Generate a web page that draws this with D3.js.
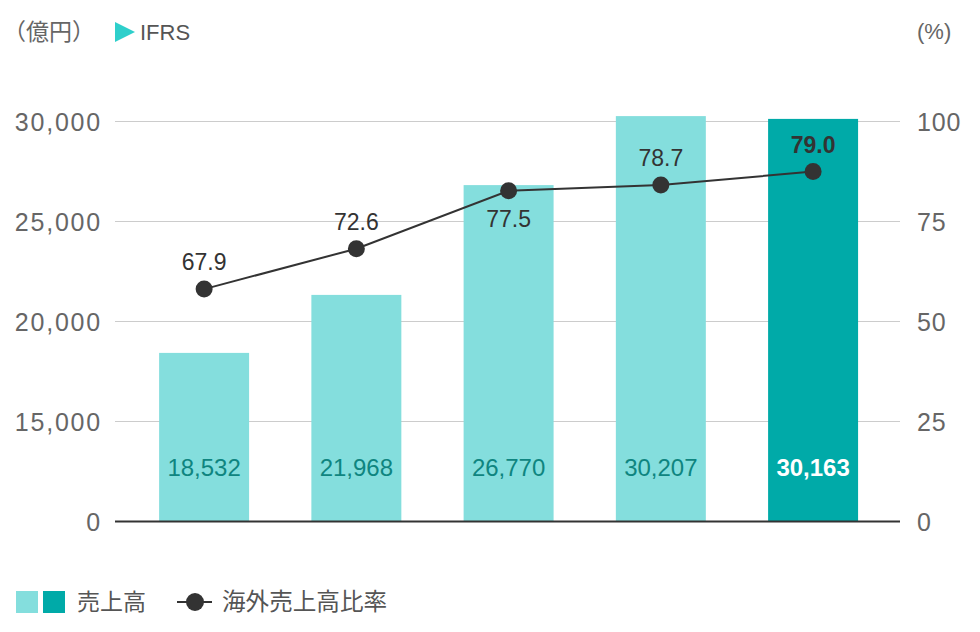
<!DOCTYPE html>
<html>
<head>
<meta charset="utf-8">
<script src="https://cdn.jsdelivr.net/npm/d3@7"></script>
<style>
  html, body { margin: 0; padding: 0; background: #fff; }
  svg { display: block; }
</style>
</head>
<body>
<svg id="chart" width="980" height="632"></svg>
<script>
// ---- data ----
const categories = ["Y1", "Y2", "Y3", "Y4", "Y5"];
const salesLabels = ["18,532", "21,968", "26,770", "30,207", "30,163"];
// bar heights as drawn in the reference (億円)
const salesValues = [18430, 21330, 26820, 30270, 30130];
const ratioLabels = ["67.9", "72.6", "77.5", "78.7", "79.0"];
// point heights as drawn in the reference (%)
const ratioValues = [58.1, 68.2, 82.7, 84.1, 87.5];
const leftTicks = [0, 15000, 20000, 25000, 30000];
const rightTicks = [0, 25, 50, 75, 100];
const highlightIndex = 4;

// ---- styles ----
const LIGHT = "#84dedd";
const DARK = "#00aaa8";
const JP = "'Noto Sans CJK JP', 'Noto Sans', sans-serif";
const LAT = "'Liberation Sans', Arial, Helvetica, sans-serif";

const svg = d3.select("#chart");

const x = d3.scaleBand()
  .domain(categories)
  .range([83, 934.2])
  .paddingInner(0.409)
  .paddingOuter(0.5);

const yL = d3.scaleLinear().domain([0, 15000, 30000]).range([521.5, 421.5, 121.5]);
const yR = d3.scaleLinear().domain([0, 100]).range([521.5, 121.5]);

const gridX0 = 115, gridX1 = 900;

// gridlines
svg.append("g").selectAll("line")
  .data(leftTicks.filter(d => d !== 0))
  .join("line")
  .attr("x1", gridX0).attr("x2", gridX1)
  .attr("y1", d => yL(d)).attr("y2", d => yL(d))
  .attr("stroke", "#cccccc").attr("stroke-width", 1);

// left axis labels
const leftAxis = d3.axisLeft(yL).tickValues(leftTicks).tickSize(0).tickPadding(0)
  .tickFormat(d3.format(","));
const gl = svg.append("g").attr("transform", `translate(${100},0)`).call(leftAxis);
gl.select(".domain").remove();
gl.selectAll("text")
  .attr("font-family", LAT).attr("font-size", 25).attr("fill", "#666")
  .attr("letter-spacing", 1.8).attr("dy", "0.36em").attr("x", 2);

// right axis labels
const rightAxis = d3.axisRight(yR).tickValues(rightTicks).tickSize(0).tickPadding(0);
const gr = svg.append("g").attr("transform", `translate(${917},0)`).call(rightAxis);
gr.select(".domain").remove();
gr.selectAll("text")
  .attr("font-family", LAT).attr("font-size", 25).attr("fill", "#666")
  .attr("letter-spacing", 0.8).attr("dy", "0.36em").attr("x", 0);

// bars
svg.append("g").selectAll("rect")
  .data(salesValues)
  .join("rect")
  .attr("x", (d, i) => x(categories[i]))
  .attr("width", x.bandwidth())
  .attr("y", d => yL(d))
  .attr("height", d => yL(0) - yL(d))
  .attr("fill", (d, i) => i === highlightIndex ? DARK : LIGHT);

// baseline
svg.append("line")
  .attr("x1", gridX0).attr("x2", gridX1)
  .attr("y1", yL(0)).attr("y2", yL(0))
  .attr("stroke", "#333").attr("stroke-width", 2);

// bar value labels
svg.append("g").selectAll("text")
  .data(salesLabels)
  .join("text")
  .attr("x", (d, i) => x(categories[i]) + x.bandwidth() / 2)
  .attr("y", yL(0) - 46)
  .attr("text-anchor", "middle")
  .attr("font-family", LAT)
  .attr("font-size", 24)
  .attr("font-weight", (d, i) => i === highlightIndex ? "bold" : "normal")
  .attr("fill", (d, i) => i === highlightIndex ? "#ffffff" : "#0f8580")
  .text(d => d);

// ratio line
const cx = i => x(categories[i]) + x.bandwidth() / 2;
const line = d3.line().x((d, i) => cx(i)).y(d => yR(d));
svg.append("path")
  .datum(ratioValues)
  .attr("d", line)
  .attr("fill", "none")
  .attr("stroke", "#333")
  .attr("stroke-width", 2);

svg.append("g").selectAll("circle")
  .data(ratioValues)
  .join("circle")
  .attr("cx", (d, i) => cx(i))
  .attr("cy", d => yR(d))
  .attr("r", 8.5)
  .attr("fill", "#333");

// ratio labels (third one sits below its point)
svg.append("g").selectAll("text")
  .data(ratioLabels)
  .join("text")
  .attr("x", (d, i) => cx(i))
  .attr("y", (d, i) => yR(ratioValues[i]) + (i === 2 ? 36 : -19))
  .attr("text-anchor", "middle")
  .attr("font-family", LAT)
  .attr("font-size", 23)
  .attr("font-weight", (d, i) => i === highlightIndex ? "bold" : "normal")
  .attr("fill", "#333")
  .text(d => d);

// header
svg.append("text")
  .attr("x", 3).attr("y", 40)
  .attr("font-family", JP).attr("font-size", 23).attr("fill", "#666")
  .text("（億円）");
svg.append("path")
  .attr("d", "M115,22 L135,32 L115,42 Z")
  .attr("fill", "#2ecfcb");
svg.append("text")
  .attr("x", 140).attr("y", 40)
  .attr("font-family", LAT).attr("font-size", 22).attr("fill", "#555")
  .text("IFRS");
svg.append("text")
  .attr("x", 917).attr("y", 39)
  .attr("font-family", LAT).attr("font-size", 22).attr("fill", "#666")
  .text("(%)");

// legend
const lg = svg.append("g");
lg.append("rect").attr("x", 16).attr("y", 591).attr("width", 22).attr("height", 22).attr("fill", LIGHT);
lg.append("rect").attr("x", 43).attr("y", 591).attr("width", 22).attr("height", 22).attr("fill", DARK);
lg.append("text").attr("x", 77).attr("y", 610)
  .attr("font-family", JP).attr("font-size", 23).attr("fill", "#555").text("売上高");
lg.append("line").attr("x1", 177).attr("x2", 212).attr("y1", 602).attr("y2", 602)
  .attr("stroke", "#333").attr("stroke-width", 2);
lg.append("circle").attr("cx", 195).attr("cy", 602).attr("r", 9).attr("fill", "#333");
lg.append("text").attr("x", 222).attr("y", 610)
  .attr("font-family", JP).attr("font-size", 23.6).attr("fill", "#555").text("海外売上高比率");
</script>
</body>
</html>
